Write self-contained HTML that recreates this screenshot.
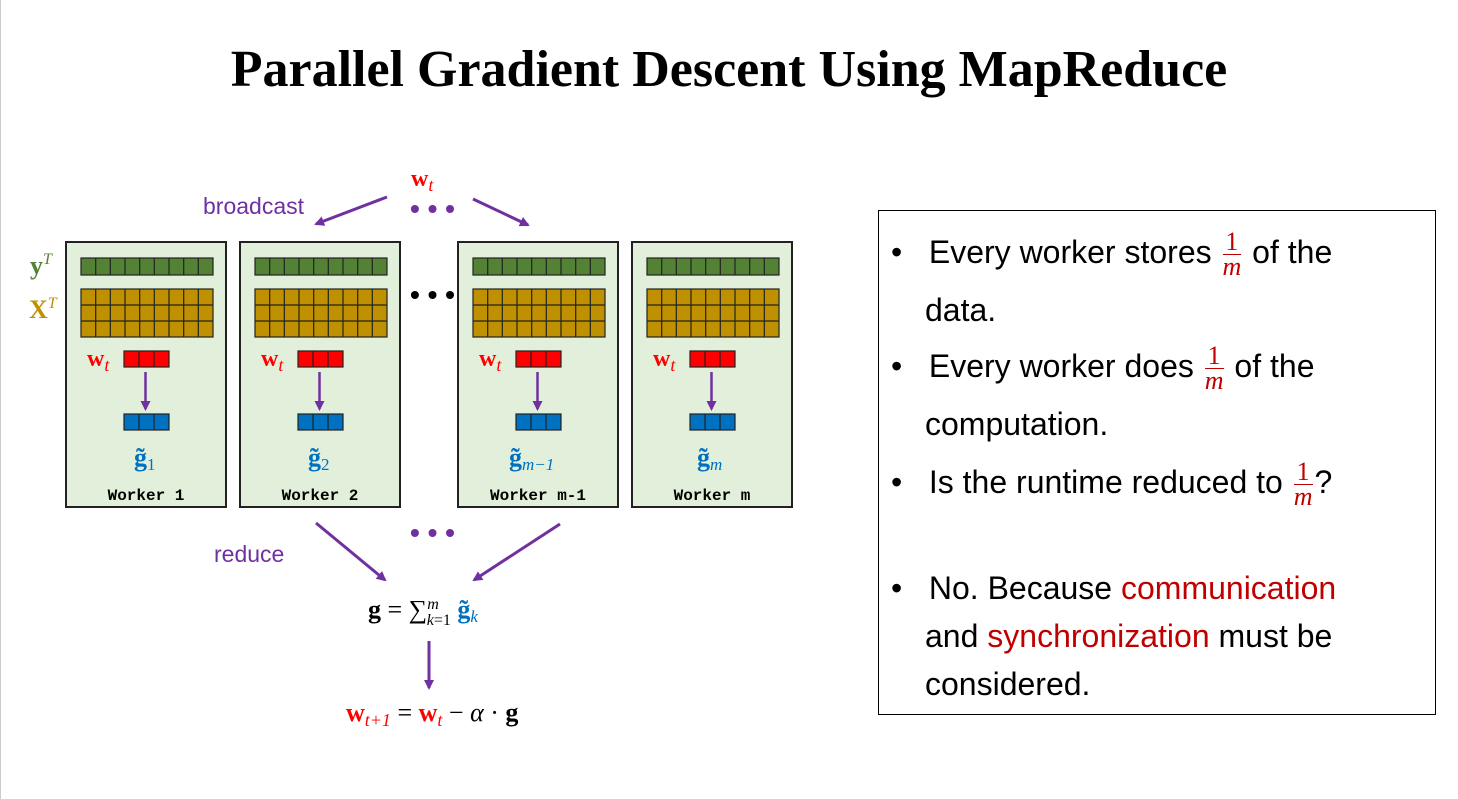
<!DOCTYPE html>
<html><head><meta charset="utf-8"><style>
body{margin:0;background:#fff;width:1458px;height:799px;overflow:hidden;position:relative;font-family:"Liberation Sans",sans-serif}
.title{position:absolute;left:0;width:1458px;top:40px;text-align:center;font-family:"Liberation Serif",serif;font-weight:bold;font-size:52px;color:#000}
.box{position:absolute;left:878px;top:210px;width:558px;height:505px;border:1.5px solid #000;box-sizing:border-box}
.li{position:absolute;left:12px;font-size:32px;color:#000;line-height:58px}
.li b{font-weight:normal}
.r{color:#c00000}
.fr{display:inline-block;vertical-align:middle;text-align:center;color:#c00000;font-family:"Liberation Serif",serif;font-style:italic;font-size:26px;line-height:24px;margin:0 2px}
.fr span{display:block;border-bottom:1.5px solid #c00000;font-style:normal}
</style></head><body>
<div class="title">Parallel Gradient Descent Using MapReduce</div>
<svg width="1458" height="799" style="position:absolute;left:0;top:0" xmlns="http://www.w3.org/2000/svg">
<defs><marker id="a" markerWidth="10" markerHeight="10" refX="8" refY="5" orient="auto" markerUnits="userSpaceOnUse"><path d="M0,0 L10,5 L0,10 z" fill="#7030a0"/></marker>
<pattern id="gy" width="14.67" height="17" patternUnits="userSpaceOnUse" x="81" y="258"><rect width="14.67" height="17" fill="#548235" stroke="#222" stroke-width="1.2"/></pattern>
</defs>
<line x1="0.5" y1="0" x2="0.5" y2="799" stroke="#ccc"/>
<g font-family="Liberation Serif" font-weight="bold">
<text x="411" y="186" font-size="24" fill="#f00">w<tspan font-style="italic" font-weight="normal" font-size="18" dy="5">t</tspan></text>
</g>
<text x="203" y="214" font-size="23" fill="#7030a0">broadcast</text>
<text x="214" y="562" font-size="23" fill="#7030a0">reduce</text>
<text x="410" y="218" font-size="28" fill="#7030a0" font-weight="bold">• • •</text>
<text x="410" y="542" font-size="28" fill="#7030a0" font-weight="bold">• • •</text>
<text x="410" y="304" font-size="28" fill="#000" font-weight="bold">• • •</text>
<g stroke="#7030a0" stroke-width="3" marker-end="url(#a)">
<line x1="387" y1="197" x2="316" y2="224"/>
<line x1="473" y1="199" x2="528" y2="225"/>
<line x1="316" y1="523" x2="385" y2="580"/>
<line x1="560" y1="524" x2="474" y2="580"/>
<line x1="429" y1="641" x2="429" y2="688"/>
</g>
<text x="30" y="274" font-family="Liberation Serif" font-weight="bold" font-size="26" fill="#548235">y<tspan font-style="italic" font-weight="normal" font-size="16" dy="-10">T</tspan></text>
<text x="29" y="318" font-family="Liberation Serif" font-weight="bold" font-size="26" fill="#bf9000">X<tspan font-style="italic" font-weight="normal" font-size="16" dy="-10">T</tspan></text>
<g id="w">
<rect x="66" y="242" width="160" height="265" fill="#e2efda" stroke="#222" stroke-width="2"/>
<g stroke="#222" stroke-width="1.2">
<rect x="81" y="258" width="132" height="17" fill="#548235"/>
<rect x="81" y="289" width="132" height="48" fill="#bf9000"/>
<path d="M95.7,258V275M110.3,258V275M125,258V275M139.7,258V275M154.3,258V275M169,258V275M183.7,258V275M198.3,258V275"/>
<path d="M95.7,289V337M110.3,289V337M125,289V337M139.7,289V337M154.3,289V337M169,289V337M183.7,289V337M198.3,289V337M81,305H213M81,321H213"/>
<rect x="124" y="351" width="45" height="16" fill="#f00"/>
<path d="M139,351V367M154,351V367"/>
<rect x="124" y="414" width="45" height="16" fill="#0070c0"/>
<path d="M139,414V430M154,414V430"/>
</g>
<line x1="145.5" y1="372" x2="145.5" y2="409" stroke="#7030a0" stroke-width="2.5" marker-end="url(#a)"/>
<text x="87" y="366" font-family="Liberation Serif" font-weight="bold" font-size="24" fill="#f00">w<tspan font-style="italic" font-weight="normal" font-size="18" dy="5">t</tspan></text>
</g>
<use href="#w" x="174"/><use href="#w" x="392"/><use href="#w" x="566"/>
<g font-family="Liberation Serif" font-size="26" fill="#0070c0" font-weight="bold">
<text x="134" y="466">g̃<tspan font-weight="normal" font-size="17" dy="4">1</tspan></text>
<text x="308" y="466">g̃<tspan font-weight="normal" font-size="17" dy="4">2</tspan></text>
<text x="509" y="466">g̃<tspan font-weight="normal" font-style="italic" font-size="17" dy="4">m−1</tspan></text>
<text x="697" y="466">g̃<tspan font-weight="normal" font-style="italic" font-size="17" dy="4">m</tspan></text>
</g>
<g font-family="Liberation Mono" font-weight="bold" font-size="16" fill="#000" text-anchor="middle">
<text x="146" y="500">Worker 1</text><text x="320" y="500">Worker 2</text><text x="538" y="500">Worker m-1</text><text x="712" y="500">Worker m</text>
</g>
<text x="368" y="618" font-family="Liberation Serif" font-size="26" fill="#000"><tspan font-weight="bold">g</tspan> = ∑<tspan font-style="italic" font-size="16" dy="-9">m</tspan><tspan font-style="italic" font-size="16" dx="-12" dy="16">k</tspan><tspan font-size="16">=1</tspan><tspan dy="-7" font-weight="bold" fill="#0070c0"> g̃</tspan><tspan font-style="italic" font-size="17" dy="4" fill="#0070c0">k</tspan></text>
<text x="346" y="721" font-family="Liberation Serif" font-size="26" fill="#000"><tspan font-weight="bold" fill="#f00">w</tspan><tspan font-style="italic" font-size="18" dy="5" fill="#f00">t+1</tspan><tspan dy="-5"> = </tspan><tspan font-weight="bold" fill="#f00">w</tspan><tspan font-style="italic" font-size="18" dy="5" fill="#f00">t</tspan><tspan dy="-5"> − </tspan><tspan font-style="italic">α</tspan> · <tspan font-weight="bold">g</tspan></text>
</svg>
<div class="box">
<div class="li" style="top:12px">•&nbsp;&nbsp; Every worker stores <span class="fr"><span>1</span>m</span> of the</div>
<div class="li" style="top:70px;left:46px">data.</div>
<div class="li" style="top:126px">•&nbsp;&nbsp; Every worker does <span class="fr"><span>1</span>m</span> of the</div>
<div class="li" style="top:184px;left:46px">computation.</div>
<div class="li" style="top:242px">•&nbsp;&nbsp; Is the runtime reduced to <span class="fr"><span>1</span>m</span>?</div>
<div class="li" style="top:348px">•&nbsp;&nbsp; No. Because <span class="r">communication</span></div>
<div class="li" style="top:396px;left:46px">and <span class="r">synchronization</span> must be</div>
<div class="li" style="top:444px;left:46px">considered.</div>
</div>
</body></html>
